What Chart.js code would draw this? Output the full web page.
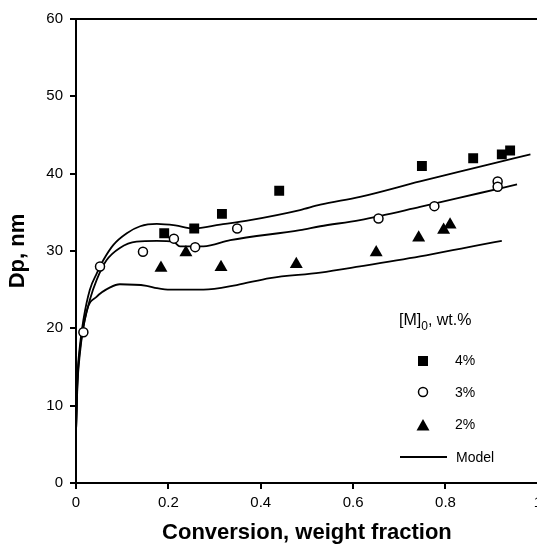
<!DOCTYPE html>
<html>
<head>
<meta charset="utf-8">
<script src="https://cdn.jsdelivr.net/npm/chart.js@4"></script>
<style>
  html, body { margin: 0; padding: 0; background: #fff; overflow: hidden; }
  #wrap { width: 547px; height: 547px; }
</style>
</head>
<body>
<div id="wrap"><canvas id="chartDp"></canvas></div>
<script>
// tick values
const xTicks = [0, 0.2, 0.4, 0.6, 0.8, 1];
const yTicks = [0, 10, 20, 30, 40, 50, 60];

// measured points, [M]0 = 4 / 3 / 2 wt.%
const conv4 = [0.191, 0.256, 0.316, 0.440, 0.749, 0.860, 0.922, 0.940];
const dp4 = [32.3, 32.9, 34.8, 37.8, 41.0, 42.0, 42.5, 43.0];

const conv3 = [0.016, 0.052, 0.145, 0.212, 0.258, 0.349, 0.655, 0.776, 0.913, 0.913];
const dp3 = [19.5, 28.0, 29.9, 31.6, 30.5, 32.9, 34.2, 35.8, 39.0, 38.3];

const conv2 = [0.184, 0.238, 0.314, 0.477, 0.650, 0.742, 0.796, 0.810];
const dp2 = [27.8, 29.8, 27.9, 28.3, 29.8, 31.7, 32.7, 33.4];

// model curves
const modelX4 = [0, 0.003, 0.008, 0.016, 0.030, 0.045, 0.059, 0.081, 0.110, 0.139, 0.175, 0.215, 0.254, 0.312, 0.377, 0.485, 0.529, 0.615, 0.745, 0.875, 0.984];
const modelY4 = [6.5, 13.5, 17.5, 21.1, 25.0, 27.1, 28.8, 30.8, 32.3, 33.2, 33.5, 33.3, 32.9, 33.4, 34.0, 35.3, 36.0, 37.0, 39.0, 40.9, 42.5];

const modelX3 = [0, 0.003, 0.008, 0.016, 0.030, 0.045, 0.066, 0.095, 0.131, 0.175, 0.211, 0.225, 0.276, 0.334, 0.485, 0.529, 0.615, 0.745, 0.875, 0.955];
const modelY3 = [6.5, 13, 17, 20.2, 23.7, 26.3, 28.8, 30.4, 31.2, 31.3, 31.2, 30.6, 30.6, 31.4, 32.7, 33.2, 34.0, 35.7, 37.5, 38.6];

const modelX2 = [0, 0.003, 0.008, 0.023, 0.045, 0.074, 0.095, 0.153, 0.175, 0.204, 0.276, 0.348, 0.420, 0.529, 0.615, 0.745, 0.875, 0.922];
const modelY2 = [6.5, 12.5, 16.5, 22.2, 24.1, 25.3, 25.7, 25.5, 25.2, 25.0, 25.0, 25.6, 26.5, 27.2, 28.0, 29.3, 30.8, 31.3];

const toXY = (xs, ys) => xs.map((x, i) => ({ x: x, y: ys[i] }));

const fontTicks = { family: "'Liberation Sans', Arial, sans-serif", size: 15 };
const fontTitle = { family: "'Liberation Sans', Arial, sans-serif", size: 22, weight: 'bold' };

const modelLine = (xs, ys) => ({
  label: 'Model',
  data: toXY(xs, ys),
  showLine: true,
  borderColor: '#000',
  borderWidth: 1.8,
  pointRadius: 0,
  cubicInterpolationMode: 'monotone',
  order: 2
});

const dataDp = {
  datasets: [
    modelLine(modelX4, modelY4),
    modelLine(modelX3, modelY3),
    modelLine(modelX2, modelY2),
    {
      label: '4%',
      data: toXY(conv4, dp4),
      pointStyle: 'rect',
      pointRadius: 7,
      backgroundColor: '#000',
      borderColor: '#000',
      borderWidth: 0,
      order: 1
    },
    {
      label: '3%',
      data: toXY(conv3, dp3),
      pointStyle: 'circle',
      pointRadius: 4.5,
      backgroundColor: '#fff',
      borderColor: '#000',
      borderWidth: 1.5,
      order: 1
    },
    {
      label: '2%',
      data: toXY(conv2, dp2),
      pointStyle: 'triangle',
      pointRadius: 7.5,
      backgroundColor: '#000',
      borderColor: '#000',
      borderWidth: 0,
      order: 1
    }
  ]
};

// top frame line + in-plot legend
const frameAndLegend = {
  id: 'frameAndLegend',
  afterDraw: chart => {
    const ctx = chart.ctx;
    const area = chart.chartArea;
    ctx.save();
    ctx.strokeStyle = '#000';
    ctx.lineWidth = 2;
    ctx.beginPath();
    ctx.moveTo(area.left - 6, area.top);
    ctx.lineTo(chart.width, area.top);
    ctx.stroke();

    ctx.fillStyle = '#000';
    ctx.textBaseline = 'middle';
    ctx.font = "16px 'Liberation Sans', Arial, sans-serif";
    ctx.fillText('[M]', 399, 321);
    const w1 = ctx.measureText('[M]').width;
    ctx.font = "12px 'Liberation Sans', Arial, sans-serif";
    ctx.fillText('0', 399 + w1, 327);
    const w2 = ctx.measureText('0').width;
    ctx.font = "16px 'Liberation Sans', Arial, sans-serif";
    ctx.fillText(', wt.%', 399 + w1 + w2, 321);

    ctx.font = "14px 'Liberation Sans', Arial, sans-serif";
    // square
    ctx.fillRect(418, 356, 10, 10);
    ctx.fillText('4%', 455, 361);
    // circle
    ctx.beginPath();
    ctx.arc(423, 392, 4.5, 0, Math.PI * 2);
    ctx.fillStyle = '#fff';
    ctx.fill();
    ctx.lineWidth = 1.5;
    ctx.stroke();
    ctx.fillStyle = '#000';
    ctx.fillText('3%', 455, 393);
    // triangle
    ctx.beginPath();
    ctx.moveTo(423, 419);
    ctx.lineTo(429.5, 430.5);
    ctx.lineTo(416.5, 430.5);
    ctx.closePath();
    ctx.fill();
    ctx.fillText('2%', 455, 425);
    // model line
    ctx.lineWidth = 1.8;
    ctx.beginPath();
    ctx.moveTo(400, 457);
    ctx.lineTo(447, 457);
    ctx.stroke();
    ctx.fillText('Model', 456, 458);
    ctx.restore();
  }
};

const optionsDp = {
  responsive: true,
  maintainAspectRatio: false,
  animation: false,
  layout: { padding: { top: 19, right: 0, left: 0, bottom: 0 } },
  scales: {
    x: {
      type: 'linear',
      min: 0,
      max: 1,
      afterBuildTicks: s => { s.ticks = xTicks.map(v => ({ value: v })); },
      afterFit: s => { s.height = 64; },
      ticks: {
        color: '#000',
        font: fontTicks,
        padding: 5,
        maxRotation: 0,
        callback: v => String(v)
      },
      grid: { drawOnChartArea: false, drawTicks: true, tickLength: 6, color: '#000', lineWidth: 2 },
      border: { color: '#000', width: 2 },
      title: {
        display: true,
        text: 'Conversion, weight fraction',
        color: '#000',
        font: fontTitle,
        padding: { top: 0, bottom: 1 }
      }
    },
    y: {
      type: 'linear',
      min: 0,
      max: 60,
      afterBuildTicks: s => { s.ticks = yTicks.map(v => ({ value: v })); },
      afterFit: s => { s.width = 76; },
      ticks: { color: '#000', font: fontTicks, padding: 7 },
      grid: { drawOnChartArea: false, drawTicks: true, tickLength: 6, color: '#000', lineWidth: 2 },
      border: { color: '#000', width: 2 },
      title: {
        display: true,
        text: 'Dp, nm',
        color: '#000',
        font: fontTitle,
        padding: { top: 5, bottom: 0 }
      }
    }
  },
  plugins: {
    legend: { display: false },
    tooltip: { enabled: false }
  }
};

const chartDp = new Chart(document.getElementById('chartDp'), {
  type: 'scatter',
  data: dataDp,
  options: optionsDp,
  plugins: [frameAndLegend]
});
</script>
</body>
</html>
